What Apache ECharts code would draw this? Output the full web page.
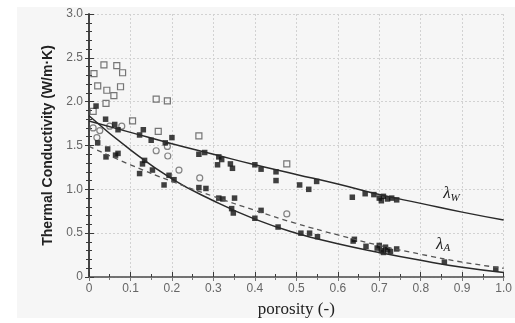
<!DOCTYPE html>
<html>
<head>
<meta charset="utf-8">
<script src="https://cdn.jsdelivr.net/npm/echarts@6/dist/echarts.min.js"></script>
<style>
  html, body { margin: 0; padding: 0; background: #fff; }
  #chart { width: 515px; height: 323px; }
</style>
</head>
<body>
<div id="chart"></div>
<script>
// model curves, every 0.1 of porosity
const lineX = [0, 0.1, 0.2, 0.3, 0.4, 0.5, 0.6, 0.7, 0.8, 0.9, 1.0];
const lambdaW = [1.78, 1.65, 1.52, 1.40, 1.28, 1.17, 1.06, 0.94, 0.84, 0.74, 0.65];
const lambdaA = [1.84, 1.45, 1.12, 0.87, 0.66, 0.50, 0.38, 0.28, 0.19, 0.11, 0.05];
const lambdaDash = [1.49, 1.28, 1.09, 0.92, 0.76, 0.61, 0.48, 0.36, 0.26, 0.17, 0.10];

// measured points [porosity, conductivity]
const filledPts = [
  [0.017, 1.95], [0.04, 1.80], [0.062, 1.74], [0.07, 1.68], [0.122, 1.62], [0.131, 1.68],
  [0.15, 1.56], [0.184, 1.53], [0.2, 1.59], [0.265, 1.40], [0.279, 1.42], [0.313, 1.37],
  [0.32, 1.34], [0.31, 1.28], [0.341, 1.29], [0.346, 1.24], [0.40, 1.28], [0.415, 1.23],
  [0.451, 1.20], [0.451, 1.10], [0.508, 1.05], [0.53, 1.00], [0.549, 1.09], [0.635, 0.91],
  [0.666, 0.95], [0.687, 0.94], [0.70, 0.90], [0.705, 0.87], [0.71, 0.92], [0.72, 0.89],
  [0.73, 0.90], [0.742, 0.88],
  [0.021, 1.53], [0.045, 1.46], [0.041, 1.37], [0.064, 1.39], [0.07, 1.41],
  [0.134, 1.33], [0.129, 1.29], [0.122, 1.18], [0.153, 1.22], [0.193, 1.16], [0.205, 1.11],
  [0.181, 1.05], [0.265, 1.02], [0.282, 1.01], [0.313, 0.90], [0.323, 0.89], [0.351, 0.90],
  [0.344, 0.78], [0.348, 0.73], [0.40, 0.67], [0.415, 0.76], [0.456, 0.57], [0.511, 0.50],
  [0.532, 0.50], [0.551, 0.46], [0.637, 0.41], [0.64, 0.43], [0.668, 0.35], [0.695, 0.33],
  [0.70, 0.36], [0.705, 0.30], [0.71, 0.28], [0.715, 0.34], [0.72, 0.31], [0.727, 0.29],
  [0.742, 0.32], [0.857, 0.17], [0.981, 0.09]
];
const openSquares = [
  [0.012, 2.32], [0.036, 2.42], [0.067, 2.41], [0.081, 2.33], [0.021, 2.18], [0.043, 2.13],
  [0.076, 2.17], [0.060, 2.07], [0.162, 2.03], [0.189, 2.01], [0.010, 1.89], [0.041, 1.98],
  [0.105, 1.78], [0.167, 1.66], [0.265, 1.61], [0.477, 1.29]
];
const openCircles = [
  [0.010, 1.70], [0.026, 1.67], [0.05, 1.72], [0.079, 1.72], [0.019, 1.59], [0.189, 1.49],
  [0.162, 1.44], [0.19, 1.38], [0.217, 1.22], [0.267, 1.13], [0.477, 0.72]
];

const xTicks = { min: 0, max: 1, interval: 0.1 };
const yTicks = { min: 0, max: 3, interval: 0.5 };

const chart = echarts.init(document.getElementById('chart'));
const axisCol = '#3a3a3a';
const tickLab = { color: '#666', fontFamily: 'Liberation Sans', fontSize: 12 };
const fmt = v => (v === 0 ? '0' : v.toFixed(1));
const toPairs = ys => ys.map((y, i) => [lineX[i], y]);
const lamRich = {
  l: { fontFamily: 'Liberation Serif', fontStyle: 'italic', fontSize: 17, color: '#222' },
  s: { fontFamily: 'Liberation Serif', fontStyle: 'italic', fontSize: 11, color: '#222', padding: [8, 0, 0, 0] }
};

chart.setOption({
  backgroundColor: '#fff',
  animation: false,
  graphic: [{
    type: 'rect', z: -10, silent: true,
    shape: { x: 17, y: 7, width: 498, height: 311 },
    style: { fill: '#f6f6f6' }
  }],
  grid: { left: 89, right: 7, top: 14, bottom: 41 },
  xAxis: [{
    type: 'value', ...xTicks,
    name: 'porosity (-)', nameLocation: 'middle', nameGap: 24,
    nameTextStyle: { fontFamily: 'Liberation Serif', fontSize: 17, color: '#222' },
    axisLine: { lineStyle: { color: axisCol, width: 1.5 } },
    axisTick: { inside: true, length: 5, lineStyle: { color: axisCol } },
    minorTick: { show: true, splitNumber: 2, length: 3, lineStyle: { color: axisCol } },
    axisLabel: { ...tickLab, margin: 6, formatter: fmt },
    splitLine: { show: true, lineStyle: { color: '#d2d2d2', type: [2, 2] } }
  }, {
    type: 'value', position: 'top', ...xTicks,
    axisLine: { lineStyle: { color: '#777', width: 1.5 } },
    axisTick: { inside: true, length: 4, lineStyle: { color: '#777' } },
    minorTick: { show: true, splitNumber: 2, length: 3, lineStyle: { color: '#777' } },
    axisLabel: { show: false }, splitLine: { show: false }
  }],
  yAxis: [{
    type: 'value', ...yTicks,
    name: 'Thermal Conductivity (W/m·K)', nameLocation: 'middle', nameGap: 33,
    nameTextStyle: { fontFamily: 'Liberation Sans', fontSize: 14, fontWeight: 'bold', color: '#222' },
    axisLine: { lineStyle: { color: axisCol, width: 1.5 } },
    axisTick: { inside: true, length: 5, lineStyle: { color: axisCol } },
    minorTick: { show: true, splitNumber: 5, length: 3, lineStyle: { color: axisCol } },
    axisLabel: { ...tickLab, margin: 6, formatter: fmt },
    splitLine: { show: true, lineStyle: { color: '#d2d2d2', type: [2, 2] } }
  }, {
    type: 'value', position: 'right', ...yTicks,
    axisLine: { show: true, lineStyle: { color: axisCol, width: 1.5 } },
    axisTick: { show: true, inside: true, length: 4, lineStyle: { color: axisCol } },
    minorTick: { show: true, splitNumber: 5, length: 3, lineStyle: { color: axisCol } },
    axisLabel: { show: false }, splitLine: { show: false }
  }],
  series: [
    {
      type: 'line', data: toPairs(lambdaW), smooth: true, showSymbol: false, symbol: 'none',
      lineStyle: { color: '#2a2a2a', width: 1.5 },
      markPoint: {
        symbol: 'circle', symbolSize: 0,
        label: { show: true, formatter: '{l|λ}{s|W}', rich: lamRich },
        data: [{ coord: [0.874, 0.95] }]
      }
    },
    {
      type: 'line', data: toPairs(lambdaA), smooth: true, showSymbol: false, symbol: 'none',
      lineStyle: { color: '#2a2a2a', width: 1.5 },
      markPoint: {
        symbol: 'circle', symbolSize: 0,
        label: { show: true, formatter: '{l|λ}{s|A}', rich: lamRich },
        data: [{ coord: [0.854, 0.37] }]
      }
    },
    {
      type: 'line', data: toPairs(lambdaDash), smooth: true, showSymbol: false, symbol: 'none',
      lineStyle: { color: '#555', width: 1.3, type: [5, 4] }
    },
    {
      type: 'scatter', data: openSquares, symbol: 'rect', symbolSize: 6,
      itemStyle: { color: 'rgba(0,0,0,0)', borderColor: '#555', borderWidth: 1.2 }
    },
    {
      type: 'scatter', data: openCircles, symbol: 'circle', symbolSize: 6,
      itemStyle: { color: 'rgba(0,0,0,0)', borderColor: '#666', borderWidth: 1.2 }
    },
    {
      type: 'scatter', data: filledPts, symbol: 'rect', symbolSize: 5.5,
      itemStyle: { color: '#111' }
    }
  ]
});
</script>
</body>
</html>
